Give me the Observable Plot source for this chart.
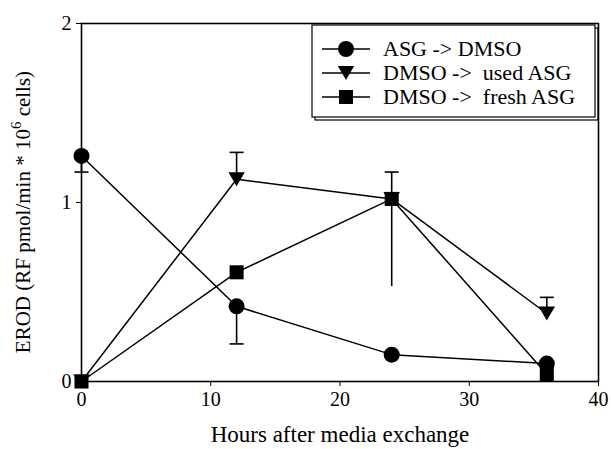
<!DOCTYPE html>
<html><head><meta charset="utf-8">
<script src="https://cdn.jsdelivr.net/npm/d3@7"></script>
<script src="https://cdn.jsdelivr.net/npm/@observablehq/plot@0.6"></script>
<style>body{margin:0;background:#fff;} svg{font-family:"Liberation Serif","Times New Roman",serif;}</style>
</head><body><div id="chart"></div>
<script>
const hours = [0, 12, 24, 36];
const seriesNames = ["ASG -> DMSO", "DMSO ->  used ASG", "DMSO ->  fresh ASG"];
const asgToDmso = [1.26, 0.42, 0.15, 0.10];
const dmsoUsedAsg = [0, 1.13, 1.02, 0.38];
const dmsoFreshAsg = [0, 0.61, 1.02, 0.04];
// error bars
const errHour = [0, 12, 12, 24, 36];
const errFrom = [1.26, 0.42, 1.13, 0.53, 0.38];
const errTo   = [1.17, 0.21, 1.28, 1.17, 0.47];
const xTicks = [0, 10, 20, 30, 40];
const yTicks = [0, 1, 2];

const triDown = {draw(ctx, size){ const s = Math.sqrt(size)*1.05; const h = s*0.85;
  ctx.moveTo(-s/2, -h/2); ctx.lineTo(s/2, -h/2); ctx.lineTo(0, h/2); ctx.closePath(); }};
const sq = {draw(ctx, size){ const s = Math.sqrt(size)*0.9; ctx.rect(-s/2,-s/2,s,s); }};
const cap = {draw(ctx, size){ const s = 7; ctx.moveTo(-s,0); ctx.lineTo(s,0); }};

const symbols = [d3.symbolCircle, triDown, sq];
const allSeries = [asgToDmso, dmsoUsedAsg, dmsoFreshAsg];
const data = allSeries.flatMap((vals, si) => hours.map((h, i) => ({series: seriesNames[si], si, h, v: vals[i]})));
const errs = errHour.map((h, i) => ({h, a: errFrom[i], b: errTo[i]}));

const plot = Plot.plot({
  width: 611, height: 449,
  marginLeft: 81, marginRight: 13, marginTop: 23, marginBottom: 68,
  style: {fontFamily: "Liberation Serif, serif", fontSize: "20px", color: "#000", background: "#fff"},
  x: {domain: [0, 40]},
  y: {domain: [0, 2]},
  marks: [
    Plot.frame({stroke: "#000", strokeWidth: 1.6}),
    Plot.ruleX(errs, {x: "h", y1: "a", y2: "b", stroke: "#000", strokeWidth: 1.6}),
    Plot.dot(errs, {x: "h", y: "b", symbol: () => cap, r: 5, stroke: "#000", strokeWidth: 1.6, fill: "none"}),
    Plot.line(data, {x: "h", y: "v", z: "series", stroke: "#000", strokeWidth: 1.5}),
    ...allSeries.map((vals, si) => Plot.dot(data.filter(d => d.si === si), {x: "h", y: "v", symbol: () => symbols[si], r: si === 0 ? 8 : 8.8, fill: "#000", stroke: "none"})),
    Plot.axisX({ticks: xTicks, tickFormat: d3.format("d"), tickSize: 5, tickPadding: 5, label: "Hours after media exchange", labelAnchor: "center", labelArrow: "none", labelOffset: 60}),
    Plot.axisY({ticks: yTicks, tickFormat: d3.format("d"), tickSize: 5, tickPadding: 5, label: null})
  ]
});
document.getElementById("chart").appendChild(plot);

const svg = d3.select(plot);
svg.selectAll("[aria-label='x-axis tick label'] text, [aria-label='y-axis tick label'] text").style("font-size", "20px");
svg.selectAll("[aria-label='x-axis label'] text").style("font-size", "23px");
// y label with superscript
const yl = svg.append("text").attr("transform", "translate(30,212) rotate(-90)").attr("text-anchor", "middle").style("font-size", "21px").attr("fill", "#000");
yl.append("tspan").text("EROD (RF pmol/min * 10");
yl.append("tspan").attr("dy", -9).style("font-size", "15px").text("6");
yl.append("tspan").attr("dy", 9).text(" cells)");

// legend
const lg = svg.append("g").attr("transform", "translate(312,25)");
lg.append("rect").attr("x", 3).attr("y", 3).attr("width", 283).attr("height", 92).attr("fill", "none").attr("stroke", "#000").attr("stroke-width", 1.2);
lg.append("rect").attr("width", 283).attr("height", 92).attr("fill", "#fff").attr("stroke", "#000").attr("stroke-width", 1.2);
seriesNames.forEach((name, i) => {
  const y = 24 + i * 24;
  lg.append("line").attr("x1", 10).attr("x2", 58).attr("y1", y).attr("y2", y).attr("stroke", "#000").attr("stroke-width", 1.5);
  const sym = symbols[i];
  const size = Math.PI * (i === 0 ? 8 : 8.8) ** 2;
  lg.append("path").attr("d", d3.symbol(sym, size)()).attr("transform", `translate(34,${y})`).attr("fill", "#000");
  lg.append("text").attr("x", 71).attr("y", y + 7).attr("text-anchor", "start").style("font-size", "22px").attr("fill", "#000").attr("xml:space", "preserve").style("white-space", "pre").text(name);
});
</script></body></html>
